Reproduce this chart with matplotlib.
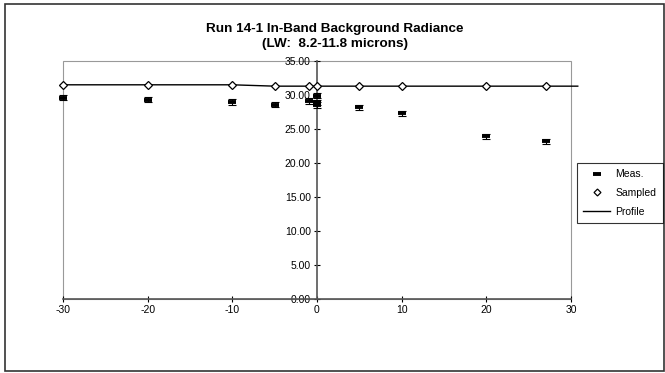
import matplotlib
matplotlib.use("Agg")
import matplotlib.pyplot as plt
from matplotlib.patches import Rectangle
from matplotlib.lines import Line2D

plt.rcParams["font.family"] = ["Liberation Sans", "DejaVu Sans"]
plt.rcParams["axes.unicode_minus"] = False

# measured radiance with error bars
meas_x = [-30, -20, -10, -5, -1, 0, 0, 0, 5, 10, 20, 27]
meas_y = [29.6, 29.3, 29.0, 28.6, 29.1, 29.9, 28.9, 28.5, 28.2, 27.3, 23.9, 23.2]
meas_err = [0.4, 0.4, 0.4, 0.35, 0.4, 0.4, 0.4, 0.4, 0.4, 0.4, 0.35, 0.35]

# sampled profile points
samp_x = [-30, -20, -10, -5, -1, 0, 5, 10, 20, 27]
samp_y = [31.5, 31.5, 31.5, 31.3, 31.3, 31.3, 31.3, 31.3, 31.3, 31.3]

# continuous profile
prof_x = [-30, -20, -10, -5, -1, 0, 5, 10, 20, 27, 30.8]
prof_y = [31.5, 31.5, 31.5, 31.3, 31.3, 31.3, 31.3, 31.3, 31.3, 31.3, 31.3]

xticks = [-30, -20, -10, 0, 10, 20, 30]
yticks = [0, 5, 10, 15, 20, 25, 30, 35]

fig = plt.figure(figsize=(6.65, 3.73), dpi=100)
ax = fig.add_axes([63 / 665, 1 - 299 / 373, 508 / 665, 238 / 373])

ax.plot(prof_x, prof_y, color="black", lw=1, clip_on=False, zorder=2)
ax.plot(samp_x, samp_y, linestyle="none", marker="D", ms=3.6, mfc="white", mec="black",
        mew=0.9, clip_on=False, zorder=3)
eb = ax.errorbar(meas_x, meas_y, yerr=meas_err, fmt="none", ecolor="black",
                 elinewidth=0.8, capsize=3, capthick=0.8, zorder=4)
for a in eb.get_children():
    a.set_clip_on(False)
ax.plot(meas_x, meas_y, linestyle="none", marker="_", ms=5.5, mew=2.8, color="black",
        clip_on=False, zorder=5)

ax.set_xlim(-30, 30)
ax.set_ylim(0, 35)
ax.set_xticks(xticks)
ax.set_yticks(yticks)
ax.set_yticklabels(["%.2f" % v for v in yticks])

for s in ["top", "right"]:
    ax.spines[s].set_visible(False)
ax.spines["left"].set_position(("data", 0))
ax.spines["left"].set_color("#555555")
ax.spines["bottom"].set_color("#555555")
ax.spines["left"].set_linewidth(1.2)
ax.spines["bottom"].set_linewidth(1.2)
ax.tick_params(direction="inout", length=5, width=0.8, labelsize=7.5, colors="black", pad=2)

# plot area frame
ax.add_patch(Rectangle((0, 0), 1, 1, transform=ax.transAxes, fill=False,
                       edgecolor="#999999", lw=0.8, zorder=0, clip_on=False))

ax.set_title("Run 14-1 In-Band Background Radiance\n(LW:  8.2-11.8 microns)",
             fontsize=9.7, fontweight="bold", x=0.535, pad=10, linespacing=1.35)

handles = [
    Line2D([], [], linestyle="none", marker="_", ms=5.5, mew=2.8, color="black"),
    Line2D([], [], linestyle="none", marker="D", ms=3.5, mfc="white", mec="black", mew=0.9),
    Line2D([], [], color="black", lw=1),
]
leg = fig.legend(handles, ["Meas.", "Sampled", "Profile"], loc="upper left",
                 bbox_to_anchor=(577 / 665, 1 - 163 / 373), fontsize=7.5, frameon=True,
                 fancybox=False, edgecolor="black", handlelength=2.6, borderpad=0.6,
                 labelspacing=0.85, handletextpad=0.5, borderaxespad=0)
leg.get_frame().set_linewidth(0.8)

# outer chart border
fig.add_artist(Rectangle((5 / 665, 2 / 373), 659 / 665, 367 / 373, transform=fig.transFigure,
                         fill=False, edgecolor="#333333", lw=1.2))

fig.savefig("out.png", dpi=100)
